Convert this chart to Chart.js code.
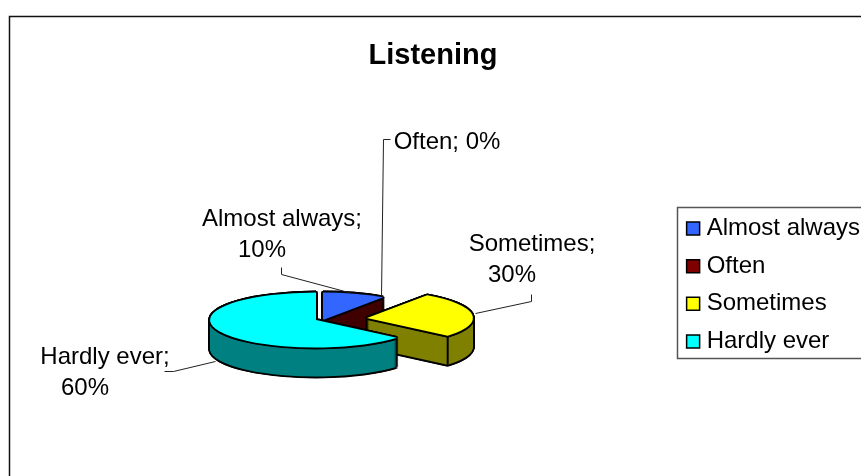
<!DOCTYPE html>
<html>
<head>
<meta charset="utf-8">
<style>
  html, body { margin: 0; padding: 0; background: #fff; overflow: hidden; }
  #wrap { width: 861px; height: 476px; }
</style>
<script src="https://cdn.jsdelivr.net/npm/chart.js@4/dist/chart.umd.min.js"></script>
</head>
<body>
<div id="wrap"><canvas id="chart" width="861" height="476"></canvas></div>
<script>
const chartTitle = 'Listening'
const categories = ['Almost always', 'Often', 'Sometimes', 'Hardly ever']
const shares = [10, 0, 30, 60]

const topColors = ['#3366ff', '#800000', '#ffff00', '#00ffff']
const wallColors = ['#400000', '#400000', '#808000', '#008080']

// pulled-out slices and the fake 3D tilt, in pixels
const explodeX = [7, 0, 51, 0]
const explodeY = [0, 0, -2, 0]
const pieCenter = { x: 316, y: 320 }
const pieRadius = 106
const tilt = 27.5 / 106
const wallDepth = 29
// Excel's view squeezes the front of the pie, angles (from 12 o'clock) are pulled back a bit
const perspective = 7.5 * Math.PI / 180

// [label lines, x of each line, first baseline y]
const labelLines = [
  [[categories[0] + ';', shares[0] + '%'], [282, 262], 226],
  [[categories[1] + '; ' + shares[1] + '%'], [447], 149],
  [[categories[2] + ';', shares[2] + '%'], [532, 512], 251],
  [[categories[3] + ';', shares[3] + '%'], [105, 85], 364]
]
const leaderLines = [
  [[281, 267], [281, 274], [352, 293]],
  [[381, 296], [383, 139], [390, 139]],
  [[475, 313], [531, 301], [531, 294]],
  [[215, 361], [173, 371], [164, 371]]
]

const warp = (angle) => {
  const a = angle + Math.PI / 2
  return angle - perspective * (1 - Math.cos(a))
}

function paintArc(ctx, arc, fill, dx, dy) {
  const saved = { o: arc.options, s: arc.startAngle, e: arc.endAngle, c: arc.circumference }
  arc.options = { ...saved.o, backgroundColor: fill, borderWidth: 0 }
  arc.startAngle = warp(saved.s)
  arc.endAngle = warp(saved.e)
  arc.circumference = arc.endAngle - arc.startAngle
  ctx.save()
  ctx.translate(pieCenter.x + dx, pieCenter.y + dy)
  ctx.scale(1, tilt)
  ctx.translate(-arc.x, -arc.y)
  arc.draw(ctx)
  ctx.restore()
  arc.options = saved.o
  arc.startAngle = saved.s
  arc.endAngle = saved.e
  arc.circumference = saved.c
}

const pie3d = {
  id: 'pie3d',
  afterLayout(chart) {
    // legend sits higher and further right than the box layout puts it
    chart.legend.left += 9
    chart.legend.right += 9
    chart.legend.top += 47
    chart.legend.bottom += 47
  },
  beforeDraw(chart) {
    const { ctx } = chart
    ctx.save()
    ctx.fillStyle = '#fff'
    ctx.fillRect(0, 0, chart.width, chart.height)
    // outer chart frame runs past the picture on the right and bottom
    ctx.strokeStyle = '#111'
    ctx.lineWidth = 1.5
    ctx.strokeRect(9.5, 16.5, 1000, 1000)
    // legend frame
    ctx.strokeStyle = '#555'
    ctx.strokeRect(677.5, 207.5, 400, 151)
    ctx.restore()
  },
  beforeDatasetDraw(chart) {
    const { ctx } = chart
    const arcs = chart.getDatasetMeta(0).data
    const w = 1.9
    const k = 1.35
    const dilate = [[-w, 0], [w, 0], [0, -w], [0, w], [-k, -k], [k, k], [-k, k], [k, -k]]
    arcs.forEach((arc, i) => {
      if (!arc.circumference) return
      const dx = explodeX[i]
      const dy = explodeY[i]
      // black silhouette of the whole block, then the wall, then the top
      for (let d = 0; d <= wallDepth; d++) {
        dilate.forEach(([ox, oy]) => paintArc(ctx, arc, '#000', dx + ox, dy + d + oy))
      }
      for (let d = wallDepth; d > 0; d--) paintArc(ctx, arc, wallColors[i], dx, dy + d)
      const a = warp(arc.endAngle)
      const ex = pieCenter.x + dx + Math.cos(a) * arc.outerRadius
      const ey = pieCenter.y + dy + Math.sin(a) * arc.outerRadius * tilt
      if (i === 2) {
        ctx.save()
        ctx.strokeStyle = '#000'
        ctx.lineWidth = 2
        ctx.beginPath()
        ctx.moveTo(ex, ey)
        ctx.lineTo(ex, ey + wallDepth)
        ctx.stroke()
        ctx.restore()
      }
      dilate.forEach(([ox, oy]) => paintArc(ctx, arc, '#000', dx + ox, dy + oy))
      paintArc(ctx, arc, topColors[i], dx, dy)
    })
    return false
  },
  afterDatasetsDraw(chart) {
    const { ctx } = chart
    ctx.save()
    ctx.strokeStyle = '#222'
    ctx.lineWidth = 1
    leaderLines.forEach((pts) => {
      ctx.beginPath()
      pts.forEach(([x, y], i) => (i ? ctx.lineTo(x + 0.5, y + 0.5) : ctx.moveTo(x + 0.5, y + 0.5)))
      ctx.stroke()
    })
    ctx.fillStyle = '#000'
    ctx.font = '24px "Liberation Sans"'
    ctx.textAlign = 'center'
    labelLines.forEach(([lines, xs, y]) => {
      lines.forEach((line, i) => ctx.fillText(line, xs[i], y + i * 31))
    })
    ctx.restore()
  }
}

new Chart(document.getElementById('chart'), {
  type: 'pie',
  data: {
    labels: categories,
    datasets: [{
      data: shares,
      backgroundColor: topColors,
      borderColor: '#000',
      borderWidth: 1.5,
      radius: pieRadius
    }]
  },
  plugins: [pie3d],
  options: {
    responsive: false,
    animation: false,
    events: [],
    layout: { padding: { left: 5 } },
    plugins: {
      tooltip: { enabled: false },
      title: {
        display: true,
        text: chartTitle,
        color: '#000',
        font: { family: '"Liberation Sans"', size: 29, weight: 'bold' },
        padding: { top: 39, bottom: 14 }
      },
      legend: {
        position: 'right',
        labels: {
          color: '#000',
          font: { family: '"Liberation Sans"', size: 24, lineHeight: 1 },
          usePointStyle: true,
          pointStyle: 'rect',
          boxWidth: 3,
          boxHeight: 13,
          padding: 13.7
        }
      }
    }
  }
})
</script>
</body>
</html>
